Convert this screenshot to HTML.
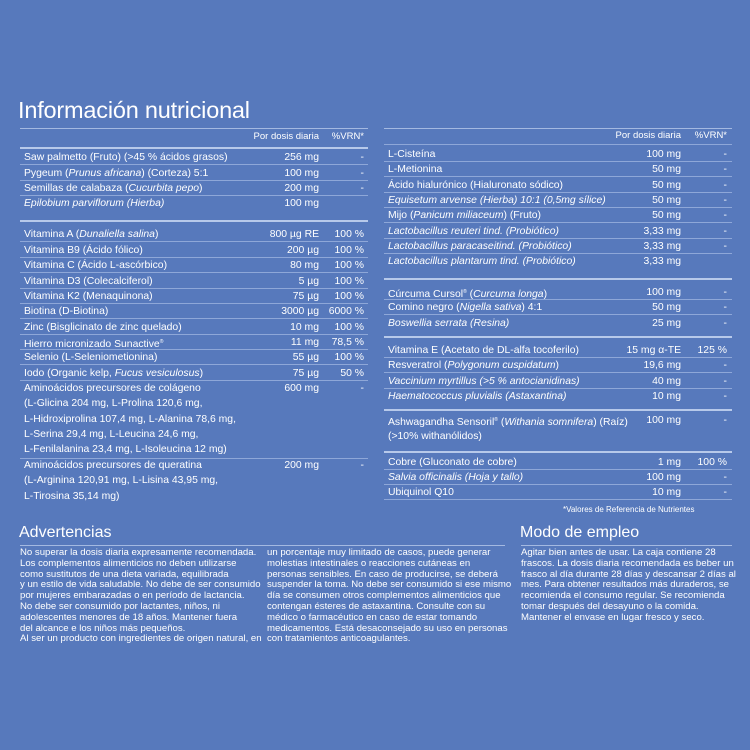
<!DOCTYPE html>
<html><head><meta charset="utf-8"><style>
*{margin:0;padding:0;box-sizing:border-box}
body{width:750px;height:750px;background:#5779bc;color:#fff;font-family:"Liberation Sans","DejaVu Sans",sans-serif;position:relative;overflow:hidden}
.a{position:absolute;white-space:nowrap}
.r{position:absolute;height:15px;line-height:15px;font-size:10.4px;white-space:nowrap}
.L{left:20px;width:348px}.R{left:384px;width:348px}
.r .n{position:absolute;left:4px}
.L .m{position:absolute;right:49px}.L .v{position:absolute;right:4px}
.R .m{position:absolute;right:51px}.R .v{position:absolute;right:5px}
.b{border-bottom:1px solid rgba(210,225,250,.45)}
.h{position:absolute;height:2px;background:rgba(215,228,250,.75)}
.t{position:absolute;height:1px;background:rgba(215,228,250,.6)}
i{font-style:italic}
sup{font-size:5px;vertical-align:4px}
.p{position:absolute;font-size:9.6px;line-height:10.8px;white-space:nowrap}
</style></head><body>
<div class="a" style="left:18px;top:97px;font-size:23.5px;letter-spacing:-0.2px">Información nutricional</div>
<div class="t" style="left:20px;top:128px;width:348px"></div>
<div class="t" style="left:384px;top:128px;width:348px"></div>
<div class="r L" style="top:129px;font-size:9.5px"><span class="m">Por dosis diaria</span><span class="v">%VRN*</span></div>
<div class="h" style="left:20px;top:147px;width:348px"></div>
<div class="r L b" style="top:150px"><span class="n">Saw palmetto (Fruto) (&gt;45 % ácidos grasos)</span><span class="m">256 mg</span><span class="v">-</span></div>
<div class="r L b" style="top:166px"><span class="n">Pygeum (<i>Prunus africana</i>) (Corteza) 5:1</span><span class="m">100 mg</span><span class="v">-</span></div>
<div class="r L b" style="top:181px"><span class="n">Semillas de calabaza (<i>Cucurbita pepo</i>)</span><span class="m">200 mg</span><span class="v">-</span></div>
<div class="r L" style="top:196px"><span class="n"><i>Epilobium parviflorum (Hierba)</i></span><span class="m">100 mg</span></div>
<div class="h" style="left:20px;top:220px;width:348px"></div>
<div class="r L b" style="top:227px"><span class="n">Vitamina A (<i>Dunaliella salina</i>)</span><span class="m">800 µg RE</span><span class="v">100 %</span></div>
<div class="r L b" style="top:243px"><span class="n">Vitamina B9 (Ácido fólico)</span><span class="m">200 µg</span><span class="v">100 %</span></div>
<div class="r L b" style="top:258px"><span class="n">Vitamina C (Ácido L-ascórbico)</span><span class="m">80 mg</span><span class="v">100 %</span></div>
<div class="r L b" style="top:274px"><span class="n">Vitamina D3 (Colecalciferol)</span><span class="m">5 µg</span><span class="v">100 %</span></div>
<div class="r L b" style="top:289px"><span class="n">Vitamina K2 (Menaquinona)</span><span class="m">75 µg</span><span class="v">100 %</span></div>
<div class="r L b" style="top:304px"><span class="n">Biotina (D-Biotina)</span><span class="m">3000 µg</span><span class="v">6000 %</span></div>
<div class="r L b" style="top:320px"><span class="n">Zinc (Bisglicinato de zinc quelado)</span><span class="m">10 mg</span><span class="v">100 %</span></div>
<div class="r L b" style="top:335px"><span class="n">Hierro micronizado Sunactive<sup>®</sup></span><span class="m">11 mg</span><span class="v">78,5 %</span></div>
<div class="r L b" style="top:350px"><span class="n">Selenio (L-Seleniometionina)</span><span class="m">55 µg</span><span class="v">100 %</span></div>
<div class="r L b" style="top:366px"><span class="n">Iodo (Organic kelp, <i>Fucus vesiculosus</i>)</span><span class="m">75 µg</span><span class="v">50 %</span></div>
<div class="r L" style="top:381px"><span class="n">Aminoácidos precursores de colágeno</span><span class="m">600 mg</span><span class="v">-</span></div>
<div class="r L" style="top:396px"><span class="n">(L-Glicina 204 mg, L-Prolina 120,6 mg,</span></div>
<div class="r L" style="top:412px"><span class="n">L-Hidroxiprolina 107,4 mg, L-Alanina 78,6 mg,</span></div>
<div class="r L" style="top:427px"><span class="n">L-Serina 29,4 mg, L-Leucina 24,6 mg,</span></div>
<div class="r L b" style="top:442px;height:17px"><span class="n">L-Fenilalanina 23,4 mg, L-Isoleucina 12 mg)</span></div>
<div class="r L" style="top:458px"><span class="n">Aminoácidos precursores de queratina</span><span class="m">200 mg</span><span class="v">-</span></div>
<div class="r L" style="top:473px"><span class="n">(L-Arginina 120,91 mg, L-Lisina 43,95 mg,</span></div>
<div class="r L" style="top:489px"><span class="n">L-Tirosina 35,14 mg)</span></div>

<div class="r R b" style="top:128px;font-size:9.5px;height:17px"><span class="m">Por dosis diaria</span><span class="v">%VRN*</span></div>
<div class="r R b" style="top:147px"><span class="n">L-Cisteína</span><span class="m">100 mg</span><span class="v">-</span></div>
<div class="r R b" style="top:162px"><span class="n">L-Metionina</span><span class="m">50 mg</span><span class="v">-</span></div>
<div class="r R b" style="top:178px"><span class="n">Ácido hialurónico (Hialuronato sódico)</span><span class="m">50 mg</span><span class="v">-</span></div>
<div class="r R b" style="top:193px"><span class="n"><i>Equisetum arvense (Hierba) 10:1 (0,5mg sílice)</i></span><span class="m">50 mg</span><span class="v">-</span></div>
<div class="r R b" style="top:208px"><span class="n">Mijo (<i>Panicum miliaceum</i>) (Fruto)</span><span class="m">50 mg</span><span class="v">-</span></div>
<div class="r R b" style="top:224px"><span class="n"><i>Lactobacillus reuteri tind. (Probiótico)</i></span><span class="m">3,33 mg</span><span class="v">-</span></div>
<div class="r R b" style="top:239px"><span class="n"><i>Lactobacillus paracaseitind. (Probiótico)</i></span><span class="m">3,33 mg</span><span class="v">-</span></div>
<div class="r R" style="top:254px"><span class="n"><i>Lactobacillus plantarum tind. (Probiótico)</i></span><span class="m">3,33 mg</span></div>
<div class="h" style="left:384px;top:278px;width:348px"></div>
<div class="r R b" style="top:285px"><span class="n">Cúrcuma Cursol<sup>®</sup> (<i>Curcuma longa</i>)</span><span class="m">100 mg</span><span class="v">-</span></div>
<div class="r R b" style="top:300px"><span class="n">Comino negro (<i>Nigella sativa</i>) 4:1</span><span class="m">50 mg</span><span class="v">-</span></div>
<div class="r R" style="top:316px"><span class="n"><i>Boswellia serrata (Resina)</i></span><span class="m">25 mg</span><span class="v">-</span></div>
<div class="h" style="left:384px;top:336px;width:348px"></div>
<div class="r R b" style="top:343px"><span class="n">Vitamina E (Acetato de DL-alfa tocoferilo)</span><span class="m">15 mg α-TE</span><span class="v">125 %</span></div>
<div class="r R b" style="top:358px"><span class="n">Resveratrol (<i>Polygonum cuspidatum</i>)</span><span class="m">19,6 mg</span><span class="v">-</span></div>
<div class="r R b" style="top:374px"><span class="n"><i>Vaccinium myrtillus (&gt;5 % antocianidinas)</i></span><span class="m">40 mg</span><span class="v">-</span></div>
<div class="r R" style="top:389px"><span class="n"><i>Haematococcus pluvialis (Astaxantina)</i></span><span class="m">10 mg</span><span class="v">-</span></div>
<div class="h" style="left:384px;top:409px;width:348px"></div>
<div class="r R" style="top:413px"><span class="n">Ashwagandha Sensoril<sup>®</sup> (<i>Withania somnifera</i>) (Raíz)</span><span class="m">100 mg</span><span class="v">-</span></div>
<div class="r R" style="top:429px"><span class="n">(&gt;10% withanólidos)</span></div>
<div class="h" style="left:384px;top:451px;width:348px"></div>
<div class="r R b" style="top:455px"><span class="n">Cobre (Gluconato de cobre)</span><span class="m">1 mg</span><span class="v">100 %</span></div>
<div class="r R b" style="top:470px"><span class="n"><i>Salvia officinalis (Hoja y tallo)</i></span><span class="m">100 mg</span><span class="v">-</span></div>
<div class="r R b" style="top:485px"><span class="n">Ubiquinol Q10</span><span class="m">10 mg</span><span class="v">-</span></div>
<div class="a" style="left:563px;top:505px;font-size:8px">*Valores de Referencia de Nutrientes</div>

<div class="a" style="left:19px;top:524px;font-size:16px">Advertencias</div>
<div class="t" style="left:20px;top:545px;width:485px"></div>
<div class="p" style="left:20px;top:548px">No superar la dosis diaria expresamente recomendada.<br>Los complementos alimenticios no deben utilizarse<br>como sustitutos de una dieta variada, equilibrada<br>y un estilo de vida saludable. No debe de ser consumido<br>por mujeres embarazadas o en período de lactancia.<br>No debe ser consumido por lactantes, niños, ni<br>adolescentes menores de 18 años. Mantener fuera<br>del alcance e los niños más pequeños.<br>Al ser un producto con ingredientes de origen natural, en</div>
<div class="p" style="left:267px;top:548px">un porcentaje muy limitado de casos, puede generar<br>molestias intestinales o reacciones cutáneas en<br>personas sensibles. En caso de producirse, se deberá<br>suspender la toma. No debe ser consumido si ese mismo<br>día se consumen otros complementos alimenticios que<br>contengan ésteres de astaxantina. Consulte con su<br>médico o farmacéutico en caso de estar tomando<br>medicamentos. Está desaconsejado su uso en personas<br>con tratamientos anticoagulantes.</div>
<div class="a" style="left:520px;top:524px;font-size:16px">Modo de empleo</div>
<div class="t" style="left:521px;top:545px;width:211px"></div>
<div class="p" style="left:521px;top:548px">Agitar bien antes de usar. La caja contiene 28<br>frascos. La dosis diaria recomendada es beber un<br>frasco al día durante 28 días y descansar 2 días al<br>mes. Para obtener resultados más duraderos, se<br>recomienda el consumo regular. Se recomienda<br>tomar después del desayuno o la comida.<br>Mantener el envase en lugar fresco y seco.</div>
</body></html>
